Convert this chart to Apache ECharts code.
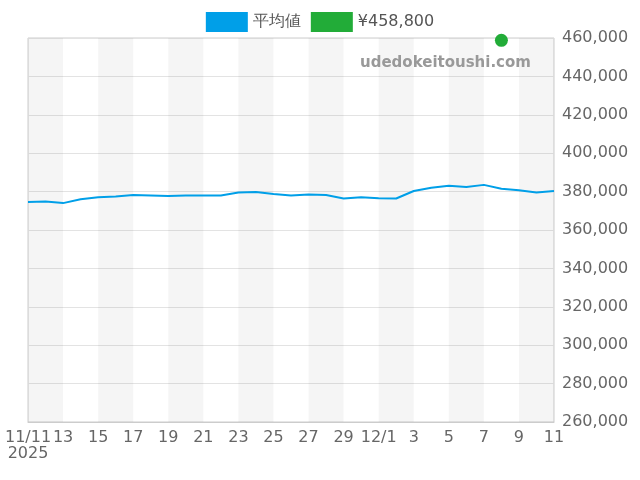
<!DOCTYPE html>
<html><head><meta charset="utf-8">
<script src="https://cdn.jsdelivr.net/npm/echarts@6/dist/echarts.min.js"></script>
</head><body style="margin:0">
<div id="c" style="width:640px;height:480px"></div>
<script>
const categories = ["11/11","11/12","11/13","11/14","11/15","11/16","11/17","11/18","11/19","11/20","11/21","11/22","11/23","11/24","11/25","11/26","11/27","11/28","11/29","11/30","12/1","12/2","12/3","12/4","12/5","12/6","12/7","12/8","12/9","12/10","12/11"];
const tickLabels = ["11/11\n2025","12","13","14","15","16","17","18","19","20","21","22","23","24","25","26","27","28","29","30","12/1","2","3","4","5","6","7","8","9","10","11"];
const avgValues = [374600,374800,374000,376000,377000,377500,378200,378000,377700,378000,378000,378000,379500,379800,378700,378000,378500,378200,376400,377000,376600,376400,380300,382000,383000,382400,383500,381500,380700,379500,380300];
const priceCategory = "12/8";
const priceValue = 458800;
const bands = [];
for (let i = 0; i + 2 < categories.length; i += 4) bands.push([{xAxis:categories[i]},{xAxis:categories[i+2]}]);
const F = 'DejaVu Sans';
const chart = echarts.init(document.getElementById('c'));
chart.setOption({
  animation:false,
  textStyle:{fontFamily:F},
  legend:{top:7,itemWidth:42,itemHeight:20,itemGap:10,textStyle:{fontSize:16,color:'#555',fontFamily:F},
    data:[{name:'平均値',icon:'rect'},{name:'¥458,800',icon:'rect'}]},
  grid:{left:28,right:86,top:38,bottom:58,show:true,borderColor:'#ccc',borderWidth:1},
  graphic:[{type:'text',left:360,top:56,z:100,style:{text:'udedokeitoushi.com',fill:'#999',fontSize:15,fontWeight:'bold',fontFamily:F}}],
  xAxis:{type:'category',data:categories,boundaryGap:false,
    axisLine:{lineStyle:{color:'#ccc'}},axisTick:{show:false},
    axisLabel:{interval:1,fontSize:16,color:'#666',fontFamily:F,formatter:(v,i)=>tickLabels[i]},
    splitLine:{show:false}},
  yAxis:{type:'value',position:'right',min:260000,max:460000,interval:20000,
    axisLine:{show:false},
    axisLabel:{fontSize:16,color:'#666',fontFamily:F,formatter:v=>v.toLocaleString('en-US')},
    splitLine:{lineStyle:{color:'#e3e3e3'}}},
  series:[
    {name:'平均値',type:'line',data:avgValues,showSymbol:false,itemStyle:{color:'#009FE8'},lineStyle:{width:2,color:'#009FE8'},
     markArea:{silent:true,itemStyle:{color:'rgba(0,0,0,0.04)'},data:bands}},
    {name:'¥458,800',type:'scatter',data:[[priceCategory,priceValue]],symbolSize:13,itemStyle:{color:'#22AC38',opacity:1}}
  ]
});
</script></body></html>
